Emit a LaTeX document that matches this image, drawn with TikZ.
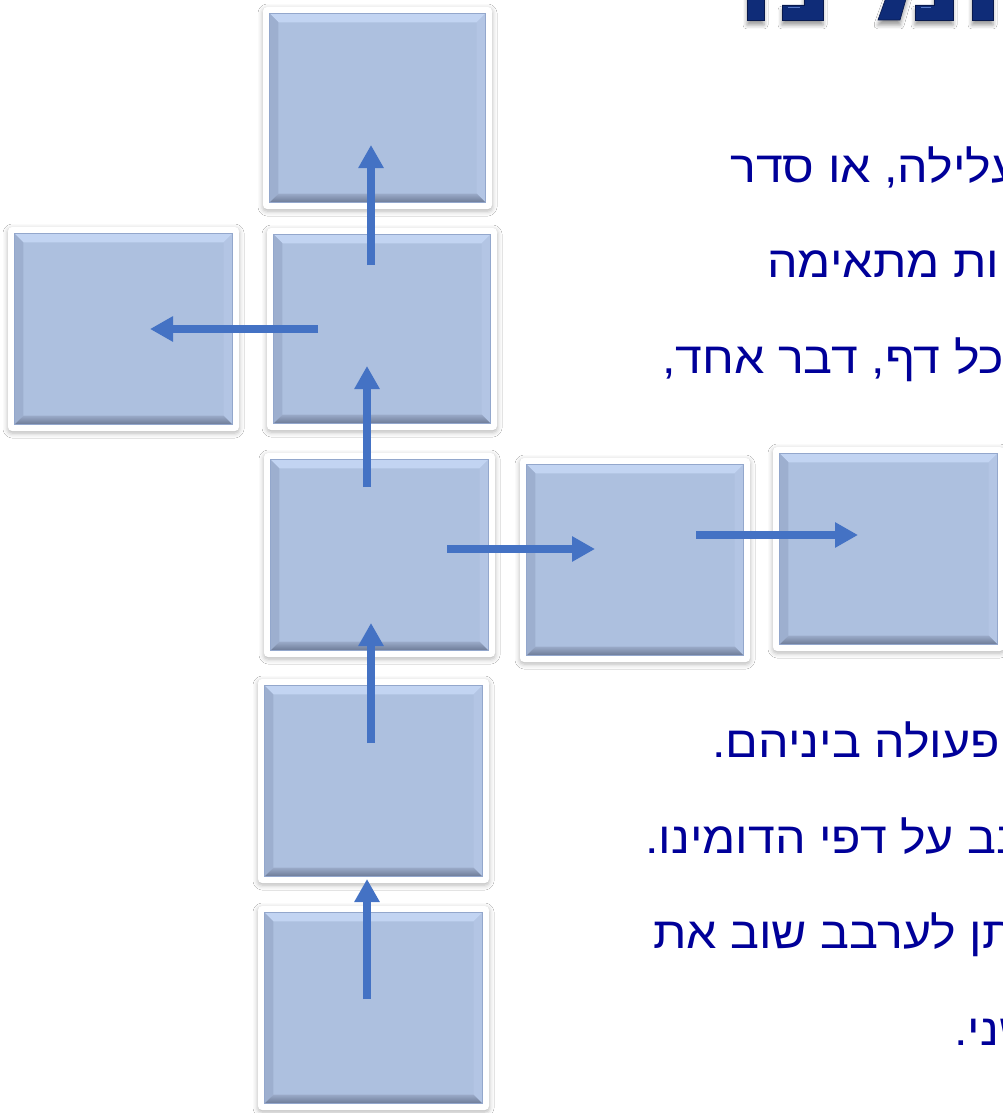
\documentclass[tikz,border=0pt]{standalone}
\usepackage{fontspec}
\usetikzlibrary{arrows.meta,shadows.blur,calc}
\newfontfamily\hebfont[Script=Hebrew, FakeStretch=1.1]{Liberation Sans}
\TeXXeTstate=1
\definecolor{boxmain}{HTML}{ADC0DF}
\definecolor{boxtop}{HTML}{C2D4F2}
\definecolor{boxleft}{HTML}{9DAFCF}
\definecolor{boxright}{HTML}{B3C5E4}
\definecolor{boxedge}{HTML}{93A7CC}
\definecolor{botA}{HTML}{9AAAC8}
\definecolor{botB}{HTML}{6B7995}
\definecolor{arrblue}{HTML}{4472C4}
\definecolor{txtblue}{HTML}{000099}
\definecolor{navy}{HTML}{0F2C78}
\definecolor{navyedge}{HTML}{08194D}
\definecolor{navyhi}{HTML}{5A7BC8}
\tikzset{
  outerbox/.style={draw=none, fill=white, rounded corners=4pt, inner sep=0pt,
    blur shadow={shadow xshift=0pt, shadow yshift=-2pt, shadow blur radius=5pt, shadow opacity=30}},
  arr/.style={draw=arrblue, line width=8pt, -{Triangle[length=23pt,width=24pt]}},
  hebline/.style={anchor=base west, inner sep=0pt, text=txtblue, font=\hebfont\fontsize{44}{50}\selectfont},
  titleshape/.style={fill=navy, draw=navyedge, line width=0.6pt,
    blur shadow={shadow xshift=0pt, shadow yshift=-5pt, shadow blur radius=4pt, shadow opacity=40}}
}
\newcommand\dbox[5]{%
  \node[outerbox, minimum width={(#4-#2)*1pt}, minimum height={(#5-#3)*1pt}] (#1) at ({(#2+#4)/2},{(#3+#5)/2}) {};
  \path (#1.north west) ++(6.5,6.5) coordinate (#1-nw) ++(9,9) coordinate (#1-nwi);
  \path (#1.north east) ++(-6.5,6.5) coordinate (#1-ne) ++(-9,9) coordinate (#1-nei);
  \path (#1.south west) ++(6.5,-6.5) coordinate (#1-sw) ++(9,-9) coordinate (#1-swi);
  \path (#1.south east) ++(-6.5,-6.5) coordinate (#1-se) ++(-9,-9) coordinate (#1-sei);
  \fill[boxmain] (#1-nw) rectangle (#1-se);
  \fill[boxtop] (#1-nw) -- (#1-ne) -- (#1-nei) -- (#1-nwi) -- cycle;
  \fill[boxleft] (#1-nw) -- (#1-nwi) -- (#1-swi) -- (#1-sw) -- cycle;
  \fill[boxright] (#1-ne) -- (#1-se) -- (#1-sei) -- (#1-nei) -- cycle;
  \shade[top color=botA, bottom color=botB] (#1-sw) -- (#1-swi) -- (#1-sei) -- (#1-se) -- cycle;
  \draw[boxedge, line width=0.8pt] (#1-nw) rectangle (#1-se);
}
\begin{document}
\begin{tikzpicture}[x=1pt,y=-1pt]
\path[use as bounding box] (0,0) rectangle (1003,1113);
\clip (0,0) rectangle (1003,1113);
\fill[white] (0,0) rectangle (1003,1113);

% title (cropped at the top)
\path[titleshape] (747,-8) rectangle (764,20);
\path[titleshape] (782,5) -- (804,5) -- (804,-8) -- (823,-8) -- (823,20) -- (782,20) -- cycle;
\path[titleshape] (888,-8) -- (908,-8) -- (900,20) -- (878,20) -- cycle;
\path[titleshape] (915,5) -- (934,5) -- (934,-8) -- (953,-8) -- (953,20) -- (915,20) -- cycle;
\path[titleshape] (972,-8) rectangle (993,20);
\draw[navyhi, line width=1.5pt] (788,7.5) -- (800,7.5);
\draw[navyhi, line width=1.5pt] (921,7.5) -- (931,7.5);

% domino boxes
\dbox{top}{263}{7}{492}{209}
\dbox{left}{8}{227}{239}{431}
\dbox{upper}{267}{228}{497}{430}
\dbox{mid}{264}{453}{495}{657}
\dbox{right1}{520}{458}{750}{662}
\dbox{right2}{773}{447}{1004}{651}
\dbox{low1}{258}{679}{489}{883}
\dbox{low2}{258}{906}{489}{1110}

% arrow ends
\coordinate (a1s) at (371,265); \coordinate (a1e) at (371,145);
\coordinate (a2s) at (318,329); \coordinate (a2e) at (150,329);
\coordinate (a3s) at (367,487); \coordinate (a3e) at (367,366);
\coordinate (a4s) at (447,549); \coordinate (a4e) at (595,549);
\coordinate (a5s) at (696,535); \coordinate (a5e) at (858,535);
\coordinate (a6s) at (371,743); \coordinate (a6e) at (371,623);
\coordinate (a7s) at (367,999); \coordinate (a7e) at (367,879);
\draw[arr] (a1s) -- (a1e);
\draw[arr] (a2s) -- (a2e);
\draw[arr] (a3s) -- (a3e);
\draw[arr] (a4s) -- (a4e);
\draw[arr] (a5s) -- (a5e);
\draw[arr] (a6s) -- (a6e);
\draw[arr] (a7s) -- (a7e);

% Hebrew text lines (cropped on the right)
\node[hebline] (t1) at (730,182) {\beginR ליצור עלילה, או סדר\endR};
\node[hebline] (t2) at (767,277) {\beginR אפשרויות מתאימה\endR};
\node[hebline] (t3) at (662,373) {\beginR בכל דף, דבר אחד,\endR};
\node[hebline] (t4) at (712,757) {\beginR יש פעולה ביניהם.\endR};
\node[hebline] (t5) at (645,853) {\beginR לערבב על דפי הדומינו.\endR};
\node[hebline] (t6) at (653,948) {\beginR ניתן לערבב שוב את\endR};
\node[hebline] (t7) at (954,1045) {\beginR משחק שני.\endR};
\end{tikzpicture}
\end{document}
